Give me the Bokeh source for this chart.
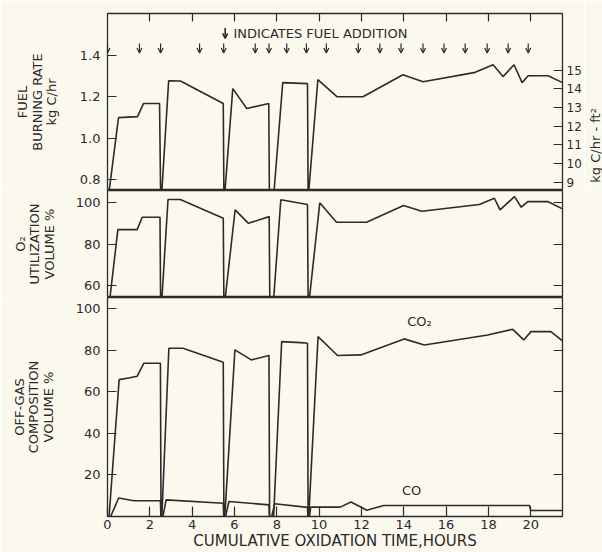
from math import pi
from bokeh.plotting import figure
from bokeh.layouts import column, row
from bokeh.models import (Range1d, LinearAxis, FixedTicker, Label, Arrow, OpenHead,
                          ColumnDataSource, NumeralTickFormatter)
from bokeh.embed import file_html
from bokeh.resources import INLINE

# ---------------- data ----------------
x_ticks = [0, 2, 4, 6, 8, 10, 12, 14, 16, 18, 20]
top_x_ticks = [2, 4, 6, 8, 10, 12, 14, 16, 18, 20]
fuel_ticks = [0.8, 1.0, 1.2, 1.4]
area_ticks = [9, 10, 11, 12, 13, 14, 15]
o2_ticks = [60, 80, 100]
gas_ticks = [20, 40, 60, 80, 100]

fuel_add_times = [0.0, 1.51, 2.51, 4.35, 5.49, 6.98, 7.63, 8.47, 9.40, 10.34,
                  11.85, 12.87, 13.87, 14.91, 15.90, 16.90, 17.94, 18.93, 19.88]

# fuel burning rate, kg C/hr
fuel_t = [0.06, 0.52, 1.42, 1.70, 2.46, 2.51, 2.56, 2.89, 3.45, 5.47, 5.50, 5.54,
          5.92, 6.58, 7.62, 7.65, 7.86, 8.28, 9.45, 9.48, 9.50, 9.94, 10.84, 12.07,
          13.96, 14.91, 17.32, 18.22, 18.69, 19.21, 19.59, 19.88, 20.82, 21.5]
fuel_v = [0.73, 1.098, 1.103, 1.166, 1.166, 0.73, 0.73, 1.276, 1.275, 1.166, 0.73, 0.73,
          1.238, 1.142, 1.166, 0.73, 0.73, 1.267, 1.262, 0.73, 0.73, 1.281, 1.199, 1.199,
          1.305, 1.271, 1.315, 1.353, 1.296, 1.353, 1.267, 1.300, 1.300, 1.267]

# O2 utilization, volume %
o2_t = [0.09, 0.49, 1.40, 1.64, 2.48, 2.51, 2.56, 2.86, 3.44, 5.47, 5.50, 5.54,
        6.03, 6.66, 7.64, 7.67, 7.84, 8.19, 9.45, 9.48, 9.52, 10.03, 10.82, 12.24,
        13.99, 14.85, 17.57, 18.28, 18.55, 19.23, 19.55, 19.86, 20.80, 21.5]
o2_v = [52, 86.9, 86.9, 92.8, 92.8, 52, 52, 101.3, 101.3, 92.3, 52, 52,
        96.3, 89.9, 93.1, 52, 52, 101.2, 98.9, 52, 52, 99.7, 90.4, 90.4,
        98.4, 95.7, 98.9, 101.9, 96.3, 102.7, 97.6, 100.3, 100.3, 96.8]

# off-gas CO2, volume %
co2_t = [0.06, 0.55, 1.00, 1.40, 1.72, 2.50, 2.53, 2.56, 2.90, 3.57, 5.47, 5.50, 5.53,
         6.02, 6.79, 7.63, 7.66, 7.84, 8.23, 9.13, 9.45, 9.48, 9.50, 9.95, 10.87,
         11.97, 14.02, 14.97, 17.97, 19.15, 19.67, 20.01, 20.95, 21.5]
co2_v = [-2, 65.8, 66.6, 67.4, 73.7, 73.7, -2, -2, 80.9, 80.9, 74.2, -2, -2,
         80.1, 75.3, 77.4, -2, -2, 84.1, 83.6, 83.3, -2, -2, 86.5, 77.4,
         77.7, 85.4, 82.5, 87.3, 90.0, 84.9, 88.9, 88.9, 84.4]

# off-gas CO, volume %
co_t = [0.06, 0.53, 1.24, 2.50, 2.53, 2.58, 2.77, 5.47, 5.50, 5.53, 5.74, 7.63, 7.66,
        7.71, 7.90, 9.45, 9.48, 9.52, 9.60, 11.00, 11.50, 11.97, 12.25, 13.05, 19.94,
        20.00, 21.5]
co_v = [-2, 8.9, 7.6, 7.6, -2, -2, 8.0, 6.4, -2, -2, 7.2, 5.6, -2,
        -2, 6.1, 4.4, -2, -2, 4.5, 4.5, 7.0, 4.6, 3.0, 5.3, 5.3,
        2.9, 2.9]

# ---------------- style ----------------
BG = "#fbf9ee"
INK = "#2b2b2b"
FONT = "DejaVu Sans"
W = 602
SIDE_W = 18
BL, BR = 107, 40
NBSP = "\u00a0"

xr = Range1d(0, 21.5)


def style_axis(ax, size="13px", standoff=6, tick_in=9):
    ax.axis_line_color = None
    ax.major_tick_in = tick_in
    ax.major_tick_out = 0
    ax.minor_tick_line_color = None
    ax.major_tick_line_color = INK
    ax.major_tick_line_width = 1.2
    ax.major_label_text_font = FONT
    ax.major_label_text_font_size = size
    ax.major_label_text_color = INK
    ax.major_label_standoff = standoff


def style_title(ax, text, standoff, size="13px", line_height=0.95):
    ax.axis_label = text
    ax.axis_label_text_font = FONT
    ax.axis_label_text_font_size = size
    ax.axis_label_text_font_style = "normal"
    ax.axis_label_text_color = INK
    ax.axis_label_standoff = standoff
    ax.axis_label_text_line_height = line_height


def base_fig(width, height, yr, top, bottom, xloc, br=BR):
    p = figure(width=width, height=height, x_range=xr, y_range=yr,
               output_backend="svg", toolbar_location=None,
               x_axis_location=xloc, min_border_left=BL, min_border_right=br,
               min_border_top=top, min_border_bottom=bottom)
    p.background_fill_color = BG
    p.border_fill_color = BG
    p.outline_line_color = INK
    p.outline_line_width = 1.3
    p.grid.visible = False
    return p


def add_label(p, x, y, text, size="13px", align="center"):
    p.add_layout(Label(x=x, y=y, text=text, text_align=align,
                       text_baseline="middle", text_font=FONT,
                       text_font_size=size, text_color=INK))


# ---------------- top panel: fuel burning rate ----------------
p1 = base_fig(W - SIDE_W, 190, Range1d(0.747, 1.6), 13, 0, "above", br=BR - SIDE_W)
p1.xaxis.ticker = FixedTicker(ticks=top_x_ticks)
p1.xaxis.major_label_overrides = {t: "" for t in top_x_ticks}
style_axis(p1.xaxis[0], size="0px", standoff=0, tick_in=8)
p1.yaxis.ticker = FixedTicker(ticks=fuel_ticks)
p1.yaxis.formatter = NumeralTickFormatter(format="0.0")
style_axis(p1.yaxis[0], standoff=7)
style_title(p1.yaxis[0], "FUEL\nBURNING RATE\nkg C/hr", 18)

p1.extra_y_ranges = {"area": Range1d(8.555, 18.04)}
ax_r = LinearAxis(y_range_name="area", ticker=FixedTicker(ticks=area_ticks))
style_axis(ax_r, size="12px", standoff=4)
p1.add_layout(ax_r, "right")

p1.line(fuel_t, fuel_v, line_color=INK, line_width=1.6)

arrow_src = ColumnDataSource(dict(x=fuel_add_times,
                                  y0=[1.455] * len(fuel_add_times),
                                  y1=[1.41] * len(fuel_add_times)))
p1.add_layout(Arrow(end=OpenHead(size=5, line_color=INK, line_width=1.2),
                    x_start="x", y_start="y0", x_end="x", y_end="y1",
                    source=arrow_src, line_color=INK, line_width=1.2))
p1.add_layout(Arrow(end=OpenHead(size=5, line_color=INK, line_width=1.6),
                    x_start=5.56, y_start=1.53, x_end=5.56, y_end=1.48,
                    line_color=INK, line_width=1.6))
add_label(p1, 5.95, 1.502, "INDICATES FUEL ADDITION", align="left")

# narrow side strip carrying the right-hand axis title (reads bottom-to-top)
side = figure(width=SIDE_W, height=190, x_range=Range1d(0, 1), y_range=Range1d(0, 1),
              output_backend="svg", toolbar_location=None, x_axis_location=None,
              min_border_left=SIDE_W - 1, min_border_right=0,
              min_border_top=13, min_border_bottom=0)
side.background_fill_color = BG
side.border_fill_color = BG
side.outline_line_color = None
side.grid.visible = False
side.yaxis.ticker = FixedTicker(ticks=[])
style_axis(side.yaxis[0], size="0px", standoff=0, tick_in=0)
side.yaxis.major_tick_line_color = None
style_title(side.yaxis[0], "kg C/hr - ft²" + NBSP * 21, 0, size="13px", line_height=1.0)

# ---------------- middle panel: O2 utilization ----------------
p2 = base_fig(W, 107, Range1d(54.4, 105.6), 0, 0, None)
p2.yaxis.ticker = FixedTicker(ticks=o2_ticks)
style_axis(p2.yaxis[0], standoff=7)
style_title(p2.yaxis[0], "O₂\nUTILIZATION\nVOLUME %", 16)
ax_r2 = LinearAxis(ticker=FixedTicker(ticks=o2_ticks),
                   major_label_overrides={t: "" for t in o2_ticks})
style_axis(ax_r2, size="0px", standoff=0)
p2.add_layout(ax_r2, "right")
p2.line(o2_t, o2_v, line_color=INK, line_width=1.6)

# ---------------- bottom panel: off-gas composition ----------------
p3 = base_fig(W, 255, Range1d(0, 105.3), 0, 36, "below")
p3.xaxis.ticker = FixedTicker(ticks=x_ticks)
style_axis(p3.xaxis[0], standoff=3, tick_in=10)
style_title(p3.xaxis[0], "CUMULATIVE OXIDATION TIME,HOURS", 0, size="15px", line_height=1.0)
p3.yaxis.ticker = FixedTicker(ticks=gas_ticks)
style_axis(p3.yaxis[0], standoff=7)
style_title(p3.yaxis[0], "OFF-GAS\nCOMPOSITION\nVOLUME %", 17)
ax_r3 = LinearAxis(ticker=FixedTicker(ticks=gas_ticks),
                   major_label_overrides={t: "" for t in gas_ticks})
style_axis(ax_r3, size="0px", standoff=0)
p3.add_layout(ax_r3, "right")

p3.line(co2_t, co2_v, line_color=INK, line_width=1.6)
p3.line(co_t, co_v, line_color=INK, line_width=1.6)
add_label(p3, 14.74, 93.6, "CO₂")
add_label(p3, 14.37, 12.7, "CO")

layout = column(row(p1, side, spacing=0), p2, p3, spacing=0)
open("out.html", "w").write(file_html(layout, INLINE))
